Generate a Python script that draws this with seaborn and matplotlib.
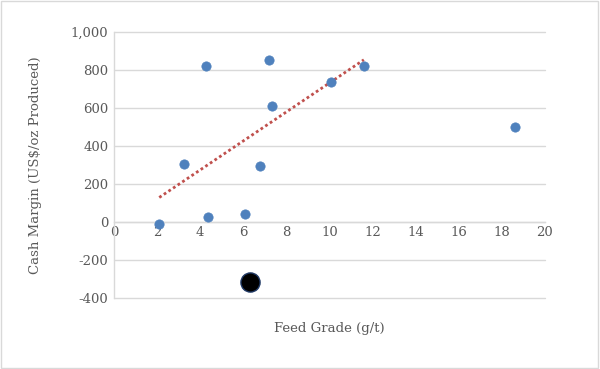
import numpy as np
import pandas as pd
import matplotlib
matplotlib.use("Agg")
import matplotlib.pyplot as plt
import seaborn as sns
from matplotlib.patches import Rectangle

# Dữ liệu
feed_grade = [2.1, 3.25, 4.27, 4.36, 6.08, 6.77, 7.19, 7.33, 10.07, 11.6, 18.6]
cash_margin = [-10, 305, 820, 25, 42, 295, 855, 610, 740, 820, 500]
# điểm dùng cho đường xu hướng (không gồm điểm 18.6)
trend_grade = feed_grade[:10]
trend_margin = cash_margin[:10]
# điểm nổi bật (màu đen)
highlight_grade = [6.3]
highlight_margin = [-315]

x_ticks = list(range(0, 21, 2))
y_ticks = list(range(-400, 1001, 200))

sns.set_theme(style="white")
plt.rcParams['font.family'] = ['DejaVu Serif']

df = pd.DataFrame({"grade": feed_grade, "margin": cash_margin})
hl = pd.DataFrame({"grade": highlight_grade, "margin": highlight_margin})

fig = plt.figure(figsize=(6, 3.69), dpi=100)
ax = fig.add_axes([0.19, 0.192, 0.718, 0.721])

# lưới ngang
for v in y_ticks:
    ax.axhline(v, color='#d9d9d9', lw=1, zorder=0, clip_on=False)

# đường xu hướng tuyến tính
coef = np.polyfit(trend_grade, trend_margin, 1)
xs = np.array([min(trend_grade), max(trend_grade)])
ax.plot(xs, np.polyval(coef, xs), color='#c0504d', lw=2, ls=(0, (1, 1)), zorder=2)

sns.scatterplot(data=df, x="grade", y="margin", ax=ax, color='#4f81bd',
                s=45, edgecolor='#4f81bd', linewidth=0.5, zorder=3, legend=False)
sns.scatterplot(data=hl, x="grade", y="margin", ax=ax, color='black',
                s=190, edgecolor='#1f3864', linewidth=1, zorder=4, legend=False)

ax.set_xlim(0, 20)
ax.set_ylim(-400, 1000)
ax.set_xticks(x_ticks)
ax.set_yticks(y_ticks)
ax.set_yticklabels([f"{v:,}" for v in y_ticks])

for s in ['top', 'right']:
    ax.spines[s].set_visible(False)
ax.spines['bottom'].set_position(('data', 0))
ax.spines['bottom'].set_color('#d9d9d9')
ax.spines['left'].set_color('#d9d9d9')
ax.spines['left'].set_linewidth(1)
ax.spines['bottom'].set_linewidth(1)

ax.tick_params(axis='both', length=0, labelsize=9.5, colors='#595959', pad=4)
ax.tick_params(axis='x', pad=3)

ax.set_xlabel('Feed Grade (g/t)', fontsize=9.5, color='#595959')
ax.set_ylabel('Cash Margin (US$/oz Produced)', fontsize=9.5, color='#595959')
ax.xaxis.set_label_coords(0.5, -0.09)
ax.yaxis.set_label_coords(-0.166, 0.5)

# khung viền biểu đồ
fig.patches.append(Rectangle((0.002, 0.003), 0.995, 0.993, transform=fig.transFigure,
                             fill=False, edgecolor='#d9d9d9', lw=1))

fig.savefig('out.png', dpi=100)
